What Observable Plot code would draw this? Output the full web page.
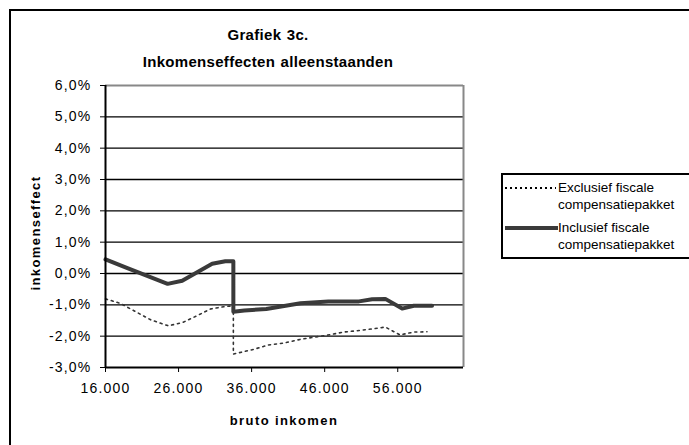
<!DOCTYPE html>
<html>
<head>
<meta charset="utf-8">
<script src="https://cdn.jsdelivr.net/npm/d3@7"></script>
<script src="https://cdn.jsdelivr.net/npm/@observablehq/plot@0.6"></script>
<style>
  html, body { margin: 0; padding: 0; background: #fff; overflow: hidden; }
  #wrap { position: relative; width: 689px; height: 445px; font-family: "Liberation Sans", Arial, sans-serif; overflow: hidden; }
  #frame { position: absolute; left: 9px; top: 9px; width: 800px; height: 600px; border-left: 2px solid #000; border-top: 2px solid #000; }
  .title { position: absolute; left: 0; width: 536px; text-align: center; font-weight: bold; font-size: 15px; letter-spacing: 0.3px; word-spacing: 1px; color: #000; }
  .axlabel { position: absolute; font-weight: bold; font-size: 13px; letter-spacing: 1.4px; color: #000; white-space: nowrap; }
  #legend { position: absolute; left: 501px; top: 173px; width: 200px; height: 82px; border: 2px solid #000; }
  .legtext { position: absolute; left: 55px; font-size: 13.5px; line-height: 17px; color: #000; white-space: nowrap; }
  #chart { position: absolute; left: 0; top: 0; }
  #chart svg g[aria-label$="tick label"] text { letter-spacing: 1.2px; }
</style>
</head>
<body>
<div id="wrap">
  <div id="chart"></div>
  <div id="frame"></div>
  <div class="title" style="top:26px;">Grafiek 3c.</div>
  <div class="title" style="top:53px;">Inkomenseffecten alleenstaanden</div>
  <div class="axlabel" style="left:284px; top:413px; transform:translateX(-50%);">bruto inkomen</div>
  <div class="axlabel" style="left:35px; top:233px; transform:translate(-50%,-50%) rotate(-90deg);">inkomenseffect</div>
  <div id="legend">
    <svg width="60" height="82" style="position:absolute;left:0;top:0">
      <line x1="2" x2="53" y1="13" y2="13" stroke="#000" stroke-width="2" stroke-dasharray="2,3"></line>
      <line x1="2" x2="55" y1="53" y2="53" stroke="#3a3a3a" stroke-width="4"></line>
    </svg>
    <div class="legtext" style="top:4px;">Exclusief fiscale<br>compensatiepakket</div>
    <div class="legtext" style="top:44px;">Inclusief fiscale<br>compensatiepakket</div>
  </div>
</div>
<script>
// Data
const inclIncome = [16000, 19000, 24500, 26500, 30600, 32400, 33500, 33500, 35000, 38000, 42700, 46500, 50700, 52500, 54300, 56600, 58200, 60700];
const inclEffect = [0.45, 0.17, -0.33, -0.23, 0.31, 0.39, 0.39, -1.22, -1.18, -1.13, -0.95, -0.89, -0.89, -0.82, -0.81, -1.12, -1.03, -1.03];
const exclIncome = [16000, 18000, 20300, 22200, 24600, 26600, 28500, 30400, 32200, 33500, 33500, 36300, 38300, 40400, 42700, 46300, 48600, 50700, 52500, 54300, 56300, 58200, 60000];
const exclEffect = [-0.81, -0.95, -1.24, -1.48, -1.67, -1.56, -1.35, -1.13, -1.06, -1.03, -2.57, -2.42, -2.28, -2.22, -2.1, -1.97, -1.87, -1.82, -1.77, -1.71, -1.96, -1.87, -1.86];
const xTicks = [16000, 26000, 36000, 46000, 56000];
const yTicks = [-3, -2, -1, 0, 1, 2, 3, 4, 5, 6];
const gridLines = [-2, -1, 0, 1, 2, 3, 4, 5];

const incl = inclIncome.map((x, i) => ({x, y: inclEffect[i]}));
const excl = exclIncome.map((x, i) => ({x, y: exclEffect[i]}));

const fmtX = d => d3.format(",")(d).replace(/,/g, ".");
const fmtY = d => d.toFixed(1).replace(".", ",") + "%";

const chart = Plot.plot({
  width: 689,
  height: 445,
  marginLeft: 105,
  marginRight: 226,
  marginTop: 85,
  marginBottom: 78,
  style: {fontFamily: "'Liberation Sans', Arial, sans-serif", fontSize: "14px", background: "transparent", color: "#000"},
  x: {domain: [16000, 65000]},
  y: {domain: [-3, 6]},
  marks: [
    Plot.ruleY(gridLines, {stroke: "#000", strokeWidth: 1.3}),
    Plot.ruleY([6], {stroke: "#888", strokeWidth: 2}),
    Plot.ruleX([65000], {stroke: "#888", strokeWidth: 2}),
    Plot.line(excl, {x: "x", y: "y", stroke: "#333", strokeWidth: 1.6, strokeDasharray: "2,4"}),
    Plot.line(incl, {x: "x", y: "y", stroke: "#3a3a3a", strokeWidth: 4}),
    Plot.ruleX([16000], {stroke: "#000", strokeWidth: 2}),
    Plot.ruleY([-3], {stroke: "#000", strokeWidth: 2}),
    Plot.axisY({ticks: yTicks, tickFormat: fmtY, tickSize: 5, tickPadding: 9, label: null, fontSize: 14}),
    Plot.axisX({ticks: xTicks, tickFormat: fmtX, tickSize: 5, tickPadding: 11, label: null, fontSize: 14})
  ]
});
document.getElementById("chart").appendChild(chart);
</script>
</body>
</html>
